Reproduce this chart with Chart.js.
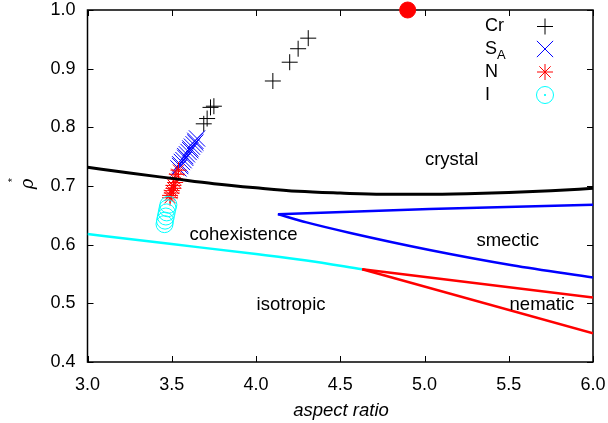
<!DOCTYPE html>
<html lang="en">
  <head>
    <meta charset="UTF-8" />
    <title>Phase diagram</title>
    <style>
      html, body { margin: 0; padding: 0; background: #fff; overflow: hidden; }
      canvas { display: block; }
    </style>
  </head>
  <body>
    <canvas id="phaseChart" width="608" height="423"></canvas>
    <script src="https://cdn.jsdelivr.net/npm/chart.js"></script>
    <script>
      // tick labels
      const xTicks = [3.0, 3.5, 4.0, 4.5, 5.0, 5.5, 6.0];
      const yTicks = [0.4, 0.5, 0.6, 0.7, 0.8, 0.9, 1.0];

      // simulation points
      const crX = [3.69, 3.71, 3.73, 3.75, 4.10, 4.20, 4.25, 4.31];
      const crY = [0.806, 0.815, 0.834, 0.836, 0.879, 0.911, 0.934, 0.952];

      const saX = [3.54, 3.55, 3.55, 3.56, 3.57, 3.58, 3.58, 3.59, 3.60, 3.61, 3.61, 3.62, 3.63, 3.64, 3.64, 3.65];
      const saY = [0.730, 0.734, 0.737, 0.741, 0.744, 0.748, 0.751, 0.754, 0.758, 0.761, 0.764, 0.767, 0.771, 0.774, 0.777, 0.781];

      const nX = [3.54, 3.53, 3.52, 3.52, 3.51, 3.51, 3.50, 3.50, 3.49, 3.49];
      const nY = [0.727, 0.720, 0.712, 0.706, 0.701, 0.696, 0.692, 0.688, 0.684, 0.680];

      const iX = [3.48, 3.475, 3.47, 3.465, 3.46, 3.457];
      const iY = [0.668, 0.662, 0.655, 0.648, 0.641, 0.635];

      const dotX = [4.9];
      const dotY = [1.0];

      // phase boundaries
      const crystalX = [3.0, 3.25, 3.5, 3.75, 4.0, 4.25, 4.5, 4.75, 5.0, 5.25, 5.5, 5.75, 6.0];
      const crystalY = [0.732, 0.722, 0.713, 0.704, 0.697, 0.691, 0.688, 0.686, 0.686, 0.687, 0.689, 0.692, 0.696];

      const smUpX = [4.13, 5.03, 6.0];
      const smUpY = [0.652, 0.661, 0.668];
      const smLoX = [4.13, 4.30, 4.56, 5.03, 5.52, 6.0];
      const smLoY = [0.652, 0.638, 0.620, 0.591, 0.565, 0.544];

      const neUpX = [4.63, 6.0];
      const neUpY = [0.558, 0.510];
      const neLoX = [4.63, 6.0];
      const neLoY = [0.558, 0.449];

      const isoX = [3.0, 3.5, 4.0, 4.3, 4.63];
      const isoY = [0.618, 0.601, 0.584, 0.573, 0.558];

      const regionNames = ["crystal", "cohexistence", "smectic", "isotropic", "nematic"];
      const regionX = [5.161, 3.926, 5.494, 4.208, 5.697];
      const regionY = [0.736, 0.608, 0.597, 0.489, 0.489];

      function pts(xs, ys) {
        return xs.map(function (x, i) { return { x: x, y: ys[i] }; });
      }

      function line(xs, ys, color, width, tension) {
        return {
          data: pts(xs, ys),
          showLine: true,
          borderColor: color,
          borderWidth: width,
          pointRadius: 0,
          tension: tension,
          cubicInterpolationMode: tension > 0 ? "monotone" : "default",
        };
      }

      function markers(label, xs, ys, style, color, radius) {
        return {
          label: label,
          data: pts(xs, ys),
          pointStyle: style,
          pointRadius: radius,
          pointBorderColor: color,
          pointBackgroundColor: "rgba(0,0,0,0)",
          pointBorderWidth: 1,
          borderColor: color,
        };
      }

      function drawShape(ctx, style, x, y, r, color) {
        ctx.save();
        ctx.strokeStyle = color;
        ctx.fillStyle = color;
        ctx.lineWidth = 1;
        ctx.beginPath();
        const d = Math.cos(Math.PI / 4) * r;
        if (style === "cross" || style === "star") {
          ctx.moveTo(x - r, y); ctx.lineTo(x + r, y);
          ctx.moveTo(x, y - r); ctx.lineTo(x, y + r);
        }
        if (style === "crossRot" || style === "star") {
          ctx.moveTo(x - d, y - d); ctx.lineTo(x + d, y + d);
          ctx.moveTo(x - d, y + d); ctx.lineTo(x + d, y - d);
        }
        if (style === "circle") {
          ctx.arc(x, y, r, 0, Math.PI * 2);
          ctx.stroke();
          ctx.beginPath();
          ctx.arc(x, y, 0.7, 0, Math.PI * 2);
          ctx.fill();
        }
        ctx.stroke();
        ctx.restore();
      }

      const FONT = "'Liberation Sans', Arial, sans-serif";

      const gnuFrame = {
        id: "gnuFrame",
        beforeDatasetsDraw(chart) {
          const ctx = chart.ctx;
          const a = chart.chartArea;
          const xs = chart.scales.x, ys = chart.scales.y;
          ctx.save();
          ctx.strokeStyle = "#000";
          ctx.lineWidth = 1;
          ctx.beginPath();
          xTicks.forEach(function (v) {
            const px = Math.round(xs.getPixelForValue(v)) + 0.5;
            ctx.moveTo(px, a.bottom); ctx.lineTo(px, a.bottom - 6);
            ctx.moveTo(px, a.top); ctx.lineTo(px, a.top + 6);
          });
          yTicks.forEach(function (v) {
            const py = Math.round(ys.getPixelForValue(v)) + 0.5;
            ctx.moveTo(a.left, py); ctx.lineTo(a.left + 6, py);
            ctx.moveTo(a.right, py); ctx.lineTo(a.right - 6, py);
          });
          ctx.stroke();
          ctx.lineWidth = 1.5;
          ctx.strokeRect(a.left, a.top, a.right - a.left, a.bottom - a.top);
          ctx.restore();
        },
        afterDraw(chart) {
          const ctx = chart.ctx;
          const xs = chart.scales.x, ys = chart.scales.y;
          ctx.save();
          ctx.fillStyle = "#000";
          ctx.textAlign = "center";
          ctx.textBaseline = "alphabetic";
          ctx.font = "18.5px " + FONT;
          regionNames.forEach(function (t, i) {
            ctx.fillText(t, xs.getPixelForValue(regionX[i]), ys.getPixelForValue(regionY[i]));
          });

          // legend
          const entries = [
            { label: "Cr", style: "cross", color: "#000", r: 8 },
            { label: "S_A", style: "crossRot", color: "#0000ff", r: 11.5 },
            { label: "N", style: "star", color: "#ff0000", r: 8 },
            { label: "I", style: "circle", color: "#00ffff", r: 8.5 },
          ];
          const rowY = [26.5, 49, 72, 95];
          ctx.textAlign = "left";
          ctx.textBaseline = "middle";
          entries.forEach(function (e, i) {
            const parts = e.label.split("_");
            ctx.font = "18px " + FONT;
            ctx.fillText(parts[0], 485, rowY[i]);
            if (parts[1]) {
              const w = ctx.measureText(parts[0]).width;
              ctx.font = "13px " + FONT;
              ctx.fillText(parts[1], 485 + w, rowY[i] + 6);
            }
            drawShape(ctx, e.style, 545, rowY[i], e.r, e.color);
          });

          // axis titles
          ctx.textAlign = "center";
          ctx.font = "italic 18.5px " + FONT;
          ctx.fillText("aspect ratio", 341, 410.5);
          ctx.save();
          ctx.translate(28, 184);
          ctx.rotate(-Math.PI / 2);
          ctx.font = "italic 18px 'DejaVu Serif', serif";
          ctx.fillText("\u03c1", 0, 0);
          ctx.font = "11px " + FONT;
          ctx.fillText("*", 4, -15);
          ctx.restore();
          ctx.restore();
        },
      };

      const datasets = [
        line(crystalX, crystalY, "#000000", 3, 0.4),
        line(smUpX, smUpY, "#0000ff", 2.5, 0),
        line(smLoX, smLoY, "#0000ff", 2.5, 0.4),
        line(neUpX, neUpY, "#ff0000", 2.5, 0),
        line(neLoX, neLoY, "#ff0000", 2.5, 0),
        line(isoX, isoY, "#00ffff", 2.5, 0.4),
        markers("I", iX, iY, "circle", "#00ffff", 8.5),
        markers("N", nX, nY, "star", "#ff0000", 8),
        markers("S_A", saX, saY, "crossRot", "#0000ff", 11.5),
        markers("Cr", crX, crY, "cross", "#000000", 8),
        {
          data: pts(dotX, dotY),
          pointRadius: 8,
          pointBackgroundColor: "#ff0000",
          pointBorderColor: "#ff0000",
          clip: false,
        },
      ];

      new Chart(document.getElementById("phaseChart"), {
        type: "scatter",
        data: { datasets: datasets },
        options: {
          responsive: false,
          animation: false,
          events: [],
          layout: { autoPadding: false, padding: { top: 10, right: 15, left: 0, bottom: 0 } },
          plugins: { legend: { display: false }, tooltip: { enabled: false } },
          scales: {
            x: {
              type: "linear",
              min: 3.0,
              max: 6.0,
              afterBuildTicks: function (s) { s.ticks = xTicks.map(function (v) { return { value: v }; }); },
              afterFit: function (s) {
                s.height = 61;
                s.paddingLeft = 0;
                s.paddingRight = 0;
              },
              grid: { display: false, drawTicks: false },
              border: { display: false },
              ticks: {
                padding: 12,
                color: "#000",
                font: { family: FONT, size: 18 },
                callback: function (v) { return Number(v).toFixed(1); },
                maxRotation: 0,
              },
            },
            y: {
              type: "linear",
              min: 0.4,
              max: 1.0,
              afterBuildTicks: function (s) { s.ticks = yTicks.map(function (v) { return { value: v }; }); },
              afterFit: function (s) {
                s.width = 87.5;
                s.paddingTop = 0;
                s.paddingBottom = 0;
              },
              grid: { display: false, drawTicks: false },
              border: { display: false },
              ticks: {
                padding: 12,
                color: "#000",
                font: { family: FONT, size: 18 },
                callback: function (v) { return Number(v).toFixed(1); },
              },
            },
          },
        },
        plugins: [gnuFrame],
      });
    </script>
  </body>
</html>
